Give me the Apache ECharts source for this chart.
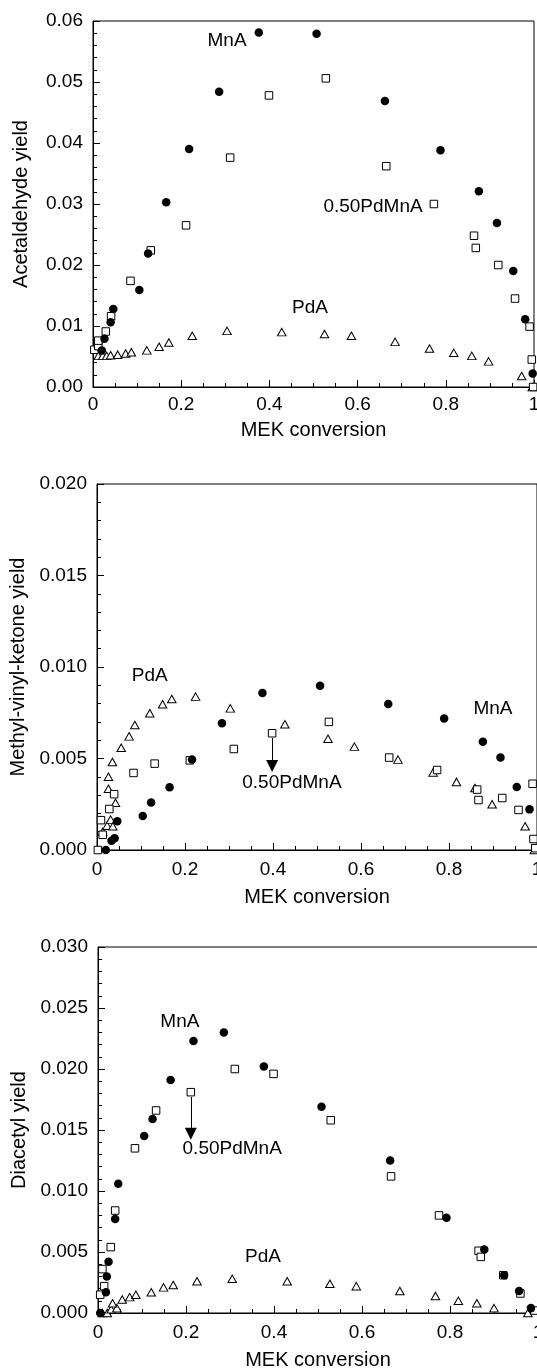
<!DOCTYPE html>
<html><head><meta charset="utf-8">
<script src="https://cdn.jsdelivr.net/npm/echarts@6/dist/echarts.min.js"></script>
<style>html,body{margin:0;padding:0;background:#fff}#c{width:537px;height:1370px}</style>
</head><body><div id="c"></div>
<script>
// ---- Panel 1: Acetaldehyde yield ----
const p1MnA = [[0.020,0.0060],[0.026,0.0079],[0.040,0.0106],[0.046,0.0128],[0.105,0.0159],[0.125,0.0219],[0.166,0.0303],[0.218,0.0390],[0.286,0.0484],[0.376,0.0581],[0.507,0.0579],[0.662,0.0469],[0.788,0.0388],[0.875,0.0321],[0.916,0.0269],[0.953,0.0190],[0.980,0.0111],[0.997,0.0022]];
const p1PdMnA = [[0.003,0.0061],[0.012,0.0067],[0.012,0.0076],[0.029,0.0091],[0.041,0.0116],[0.085,0.0174],[0.131,0.0224],[0.211,0.0265],[0.311,0.0376],[0.399,0.0478],[0.528,0.0506],[0.665,0.0362],[0.773,0.0300],[0.864,0.0248],[0.868,0.0228],[0.919,0.0200],[0.957,0.0145],[0.990,0.0099],[0.995,0.0045],[0.998,0.0000]];
const p1PdA = [[0.012,0.0051],[0.022,0.0051],[0.031,0.0051],[0.040,0.0052],[0.056,0.0053],[0.074,0.0055],[0.087,0.0057],[0.122,0.0060],[0.150,0.0066],[0.172,0.0073],[0.225,0.0084],[0.304,0.0092],[0.428,0.0090],[0.525,0.0087],[0.586,0.0084],[0.685,0.0074],[0.763,0.0063],[0.818,0.0056],[0.859,0.0051],[0.897,0.0042],[0.972,0.0018],[0.996,0.0000]];
const p1Labels = [{name:'MnA',value:[0.304,0.0567]},{name:'0.50PdMnA',value:[0.635,0.0295]},{name:'PdA',value:[0.492,0.0130]}];

// ---- Panel 2: Methyl-vinyl-ketone yield ----
const p2MnA = [[0.020,0.0000],[0.033,0.0005],[0.040,0.00064],[0.046,0.00157],[0.104,0.00186],[0.123,0.00259],[0.165,0.00343],[0.216,0.00495],[0.284,0.00692],[0.376,0.00858],[0.507,0.00898],[0.662,0.00798],[0.789,0.00718],[0.877,0.00592],[0.917,0.00506],[0.954,0.00344],[0.983,0.00222]];
const p2PdMnA = [[0.002,0.0000],[0.009,0.00163],[0.013,0.00083],[0.028,0.00224],[0.039,0.00305],[0.083,0.00421],[0.131,0.00472],[0.211,0.00490],[0.311,0.00552],[0.398,0.00638],[0.527,0.00700],[0.664,0.00505],[0.773,0.00437],[0.864,0.00330],[0.867,0.00273],[0.921,0.00284],[0.958,0.00219],[0.990,0.00362],[0.992,0.00060],[0.996,0.0001]];
const p2PdA = [[0.013,0.00099],[0.023,0.00133],[0.031,0.00166],[0.036,0.00130],[0.042,0.00258],[0.026,0.00335],[0.026,0.00400],[0.035,0.00481],[0.055,0.00559],[0.073,0.00621],[0.086,0.00683],[0.120,0.00747],[0.149,0.00796],[0.170,0.00825],[0.224,0.00838],[0.303,0.00774],[0.427,0.00687],[0.525,0.00608],[0.585,0.00565],[0.684,0.00494],[0.764,0.00424],[0.817,0.00372],[0.859,0.00339],[0.898,0.00250],[0.973,0.00130],[0.994,0.0000]];
const p2Labels = [{name:'PdA',value:[0.120,0.0095]},{name:'MnA',value:[0.900,0.0077]},{name:'0.50PdMnA',value:[0.443,0.00366]}];
const p2Arrow = [[0.398,0.00612],[0.398,0.00459]];

// ---- Panel 3: Diacetyl yield ----
const p3MnA = [[0.005,0.0000],[0.018,0.0017],[0.020,0.0030],[0.024,0.0042],[0.039,0.0077],[0.046,0.0106],[0.105,0.0145],[0.124,0.0159],[0.165,0.0191],[0.217,0.0223],[0.286,0.0230],[0.377,0.0202],[0.508,0.0169],[0.664,0.0125],[0.792,0.0078],[0.878,0.0052],[0.923,0.0031],[0.957,0.0018],[0.984,0.0004]];
const p3PdMnA = [[0.005,0.0015],[0.014,0.0022],[0.010,0.0036],[0.029,0.0054],[0.039,0.0084],[0.084,0.0135],[0.132,0.0166],[0.211,0.0181],[0.311,0.0200],[0.399,0.0196],[0.529,0.0158],[0.666,0.0112],[0.775,0.0080],[0.865,0.0051],[0.870,0.0046],[0.921,0.0031],[0.960,0.0016],[0.992,0.0002]];
const p3PdA = [[0.010,0.0000],[0.021,0.0000],[0.030,0.0003],[0.043,0.0004],[0.033,0.0008],[0.055,0.0011],[0.072,0.0013],[0.086,0.0015],[0.121,0.0017],[0.149,0.0021],[0.171,0.0023],[0.225,0.0026],[0.305,0.0028],[0.430,0.0026],[0.527,0.0024],[0.587,0.0022],[0.686,0.0018],[0.767,0.0014],[0.819,0.0010],[0.861,0.0008],[0.900,0.0004],[0.977,0.0000]];
const p3Labels = [{name:'MnA',value:[0.186,0.0239]},{name:'0.50PdMnA',value:[0.305,0.0135]},{name:'PdA',value:[0.375,0.0046]}];
const p3Arrow = [[0.211,0.0177],[0.211,0.0147]];

const xTickLabels = ['0','0.2','0.4','0.6','0.8','1'];
const yNames = ['Acetaldehyde yield','Methyl-vinyl-ketone yield','Diacetyl yield'];
const xName = 'MEK conversion';
const yMax = [0.06, 0.02, 0.03];
const yInterval = [0.01, 0.005, 0.005];
const yDecimals = [2, 3, 3];

const FONT = 'Liberation Sans, Arial, Helvetica, sans-serif';
const grids = [
  {left:93, top:21, width:441, height:366},
  {left:97, top:484, width:440, height:366},
  {left:98, top:947, width:440, height:366}
];
const yNameGap = [62, 66, 67];
const xNameGap = [33, 37, 37];
const xLabelMargin = [8, 10, 10];

const xAxes = grids.map((g,i)=>({
  type:'value', gridIndex:i, min:0, max:1, interval:0.2,
  name:xName, nameLocation:'middle', nameGap:xNameGap[i],
  nameTextStyle:{fontFamily:FONT, fontSize:20, color:'#000'},
  axisLine:{show:true, onZero:false, lineStyle:{color:'#000', width:1}},
  axisTick:{show:true, inside:true, length:7, lineStyle:{color:'#000'}},
  minorTick:{show:true, splitNumber:4, length:4, lineStyle:{color:'#000'}},
  splitLine:{show:false},
  axisLabel:{fontFamily:FONT, fontSize:19, color:'#000', margin:xLabelMargin[i], hideOverlap:false,
    formatter:(v)=>xTickLabels[Math.round(v/0.2)]}
}));
const yAxes = grids.map((g,i)=>({
  type:'value', gridIndex:i, min:0, max:yMax[i], interval:yInterval[i],
  name:yNames[i], nameLocation:'middle', nameGap:yNameGap[i],
  nameTextStyle:{fontFamily:FONT, fontSize:20, color:'#000'},
  axisLine:{show:true, onZero:false, lineStyle:{color:'#000', width:1}},
  axisTick:{show:true, inside:true, length:7, lineStyle:{color:'#000'}},
  minorTick:{show:true, splitNumber:5, length:4, lineStyle:{color:'#000'}},
  splitLine:{show:false},
  axisLabel:{fontFamily:FONT, fontSize:19, color:'#000', margin:10,
    formatter:(v)=>v.toFixed(yDecimals[i])}
}));

function pts(data, i, kind){
  const base = {type:'scatter', xAxisIndex:i, yAxisIndex:i, data:data, clip:false, silent:true};
  if(kind==='circle') return Object.assign(base,{symbol:'circle', symbolSize:8.5, itemStyle:{color:'#000', opacity:1}, z:4});
  if(kind==='square') return Object.assign(base,{symbol:'rect', symbolSize:7.5, itemStyle:{color:'#fff', borderColor:'#000', borderWidth:1, opacity:1}, z:3});
  return Object.assign(base,{symbol:'triangle', symbolSize:[8.5,7.5], itemStyle:{color:'#fff', borderColor:'#000', borderWidth:1, opacity:1}, z:2});
}
function labels(data, i){
  return {type:'scatter', xAxisIndex:i, yAxisIndex:i, data:data, symbolSize:0, silent:true, clip:false, z:6,
    itemStyle:{color:'#000', opacity:1},
    label:{show:true, position:'inside', formatter:(p)=>p.name, fontFamily:FONT, fontSize:19, color:'#000', textBorderWidth:0}};
}
function arrow(a, i){
  return {type:'lines', coordinateSystem:'cartesian2d', xAxisIndex:i, yAxisIndex:i, silent:true, z:5,
    symbol:['none','triangle'], symbolSize:[9,12],
    lineStyle:{color:'#000', width:1, opacity:1}, itemStyle:{color:'#000'},
    data:[{coords:a}]};
}

const series = [
  pts(p1PdA,0,'tri'), pts(p1PdMnA,0,'square'), pts(p1MnA,0,'circle'), labels(p1Labels,0),
  pts(p2PdA,1,'tri'), pts(p2PdMnA,1,'square'), pts(p2MnA,1,'circle'), labels(p2Labels,1), arrow(p2Arrow,1),
  pts(p3PdA,2,'tri'), pts(p3PdMnA,2,'square'), pts(p3MnA,2,'circle'), labels(p3Labels,2), arrow(p3Arrow,2)
];

const chart = echarts.init(document.getElementById('c'), null, {renderer:'canvas'});
chart.setOption({
  animation:false,
  backgroundColor:'#fff',
  grid: grids.map(g=>Object.assign({show:true, borderColor:'#000', borderWidth:1, backgroundColor:'transparent', containLabel:false, outerBoundsMode:'none'}, g)),
  xAxis: xAxes, yAxis: yAxes, series: series
});
</script></body></html>
